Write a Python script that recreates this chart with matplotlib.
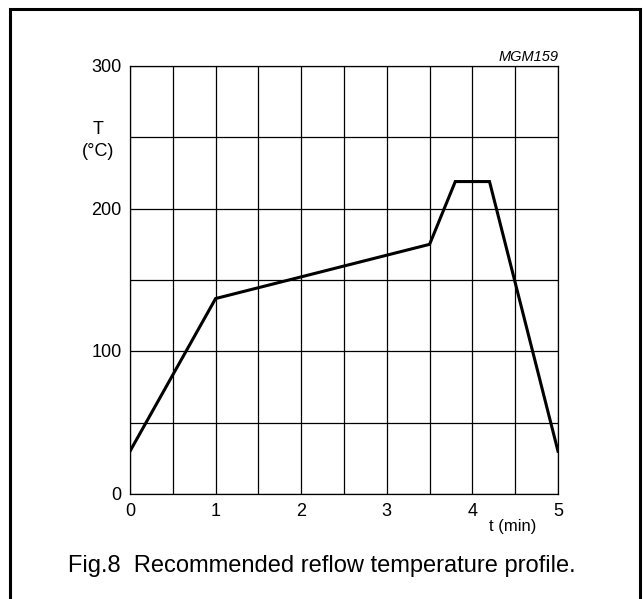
import matplotlib
matplotlib.use("Agg")
import matplotlib.pyplot as plt
from matplotlib.patches import Rectangle

# Reflow profile breakpoints
time_min = [0, 1, 3.5, 3.8, 4.2, 5]
temp_c = [30, 137, 175, 219, 219, 30]

x_ticks = [0, 1, 2, 3, 4, 5]
y_ticks = [0, 100, 200, 300]
x_grid = [0.5 * i for i in range(11)]
y_grid = [50 * i for i in range(7)]

W, H = 643, 599
plt.rcParams["font.family"] = ["Liberation Sans", "DejaVu Sans"]

fig = plt.figure(figsize=(W / 100, H / 100), dpi=100)


def px(x, y):
    # pixel position (from top-left) -> figure fraction
    return x / W, 1 - y / H


# plot area in pixels: x 130..558, y 66..494
left, right, top, bottom = 130, 558, 66, 494
ax = fig.add_axes([left / W, 1 - bottom / H, (right - left) / W, (bottom - top) / H])

for gx in x_grid:
    ax.axvline(gx, color="black", lw=0.9, zorder=1)
for gy in y_grid:
    ax.axhline(gy, color="black", lw=0.9, zorder=1)

ax.plot(time_min, temp_c, color="black", lw=2.2, solid_joinstyle="miter", zorder=3)

ax.set_xlim(0, 5)
ax.set_ylim(0, 300)
ax.set_xticks([])
ax.set_yticks([])
for s in ax.spines.values():
    s.set_linewidth(0.9)

# tick labels as plain text
for xv in x_ticks:
    ax.text(xv, -12.5, str(xv), ha="center", va="center", fontsize=13)
for yv in y_ticks:
    ax.text(-0.095, yv - 1, str(yv), ha="right", va="center", fontsize=13)

fig.text(*px(513, 526), "t (min)", ha="center", va="center", fontsize=12)
fig.text(*px(98, 129), "T", ha="center", va="center", fontsize=13)
fig.text(*px(98, 152), "(°C)", ha="center", va="center", fontsize=13)
fig.text(*px(559, 57), "MGM159", ha="right", va="center",
         fontsize=10.5, style="italic")
fig.text(*px(322, 566), "Fig.8  Recommended reflow temperature profile.",
         ha="center", va="center", fontsize=17)

# outer frame, runs off the bottom edge
fig.patches.append(Rectangle((9.5 / W, -0.05), (630.5 / W), 1 - 8.5 / H + 0.05,
                             transform=fig.transFigure, fill=False,
                             lw=2.2, edgecolor="black"))

fig.savefig("out.png", dpi=100)
